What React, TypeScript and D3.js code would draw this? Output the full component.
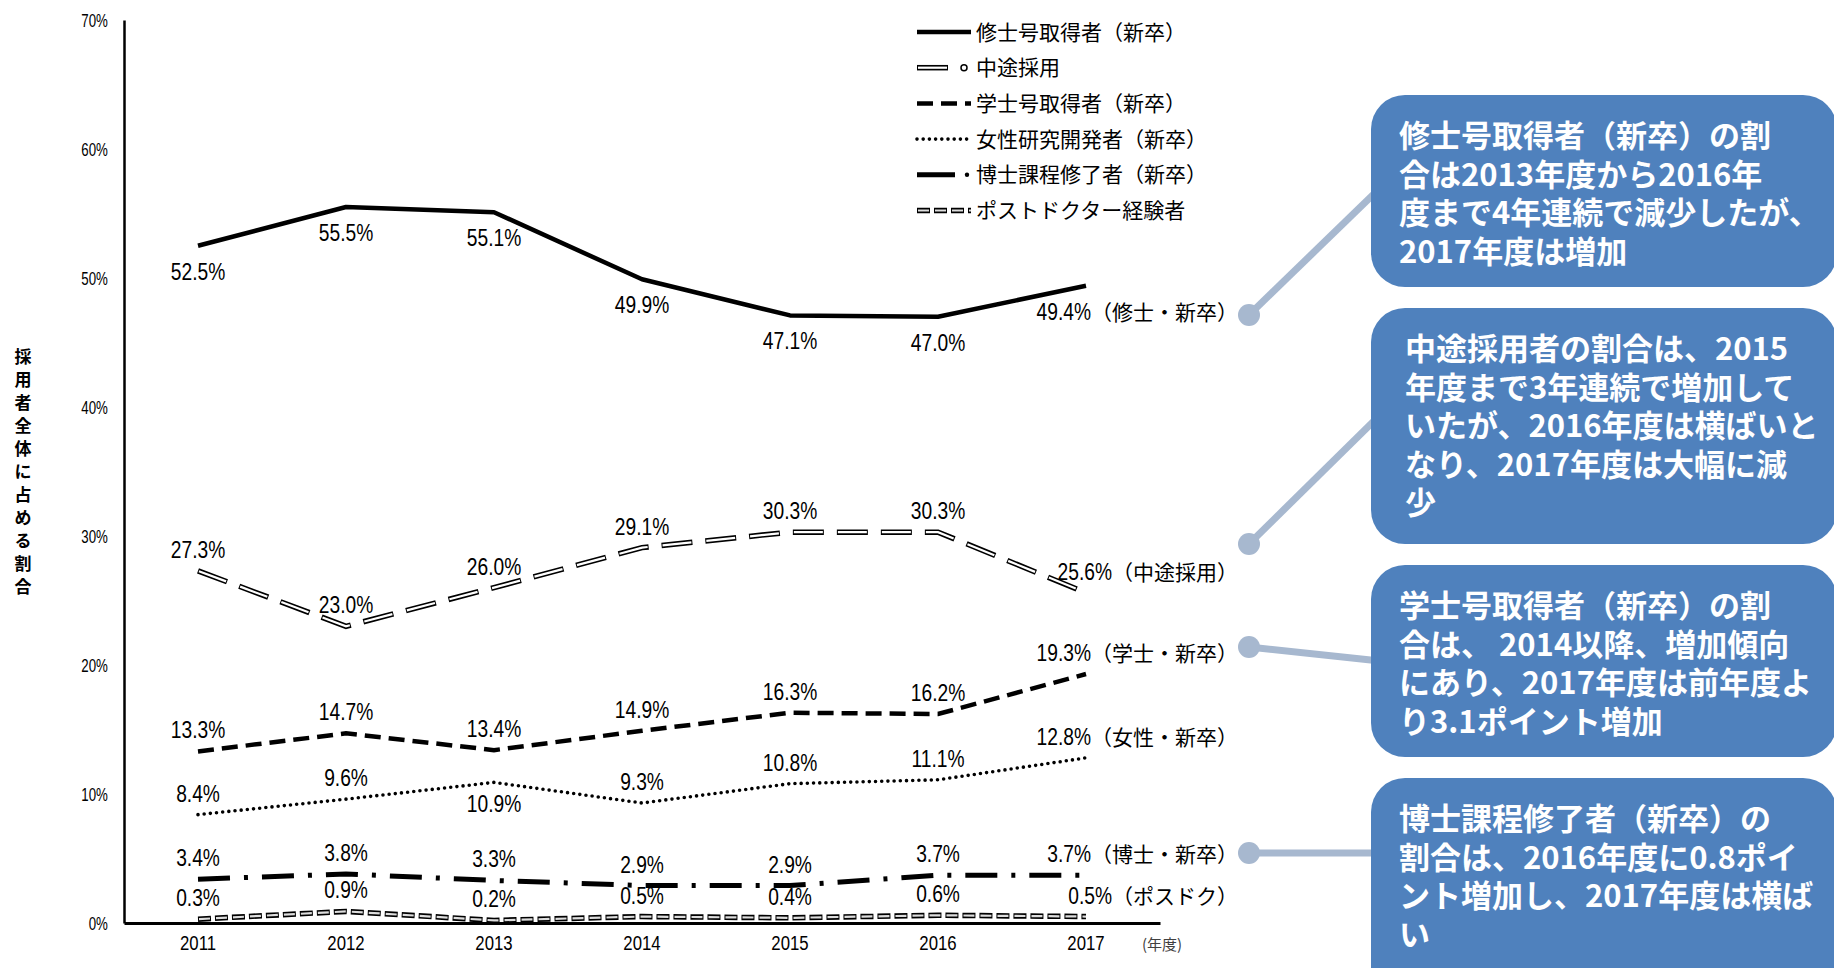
import { useRef, useEffect } from 'react';
import * as d3 from 'd3';

// 採用者全体に占める割合 (%), 2011-2017
const years = ['2011', '2012', '2013', '2014', '2015', '2016', '2017'];
const masterNew = [52.5, 55.5, 55.1, 49.9, 47.1, 47.0, 49.4];
const midCareer = [27.3, 23.0, 26.0, 29.1, 30.3, 30.3, 25.6];
const bachelorNew = [13.3, 14.7, 13.4, 14.9, 16.3, 16.2, 19.3];
const femaleNew = [8.4, 9.6, 10.9, 9.3, 10.8, 11.1, 12.8];
const doctorNew = [3.4, 3.8, 3.3, 2.9, 2.9, 3.7, 3.7];
const postdoc = [0.3, 0.9, 0.2, 0.5, 0.4, 0.6, 0.5];

const yTicks = [0, 10, 20, 30, 40, 50, 60, 70];

const legendNames = [
    '修士号取得者（新卒）',
    '中途採用',
    '学士号取得者（新卒）',
    '女性研究開発者（新卒）',
    '博士課程修了者（新卒）',
    'ポストドクター経験者',
];
const endTags = ['（修士・新卒）', '（中途採用）', '（学士・新卒）', '（女性・新卒）', '（博士・新卒）', '（ポスドク）'];

// 1 = label under the point, 0 = above
const labelBelow = [
    [1, 1, 1, 1, 1, 1, 1],
    [0, 0, 0, 0, 0, 0, 0],
    [0, 0, 0, 0, 0, 0, 0],
    [0, 0, 1, 0, 0, 0, 0],
    [0, 0, 0, 0, 0, 0, 0],
    [0, 0, 0, 0, 0, 0, 0],
];

const callouts = [
    ['修士号取得者（新卒）の割', '合は2013年度から2016年', '度まで4年連続で減少したが、', '2017年度は増加'],
    ['中途採用者の割合は、2015', '年度まで3年連続で増加して', 'いたが、2016年度は横ばいと', 'なり、2017年度は大幅に減', '少'],
    ['学士号取得者（新卒）の割', '合は、 2014以降、増加傾向', 'にあり、2017年度は前年度よ', 'り3.1ポイント増加'],
    ['博士課程修了者（新卒）の', '割合は、2016年度に0.8ポイ', 'ント増加し、2017年度は横ば', 'い'],
];

const seriesValues = [masterNew, midCareer, bachelorNew, femaleNew, doctorNew, postdoc];

const numFont = "'Liberation Sans', Arial, sans-serif";
const jpFont = "'Noto Sans CJK JP', sans-serif";

type Sel = d3.Selection<SVGGElement, unknown, null, undefined>;

const App = () => {
    const svgRef = useRef<SVGSVGElement | null>(null);

    const renderChart = () => {
        const svgElement = svgRef.current;
        if (!svgElement) return;

        const width = 1834;
        const height = 968;
        const svg = d3.select(svgElement);
        svg.selectAll('*').remove();

        svg.append('rect').attr('width', width).attr('height', height).attr('fill', '#fff');

        const x = d3.scaleBand<string>().domain(years).range([124, 1160]);
        const cx = (d: string) => (x(d) as number) + x.bandwidth() / 2;
        const y = d3.scaleLinear().domain([0, 70]).range([923, 20]);

        // line styles
        const styleLine = (g: Sel, kind: number, d: string) => {
            const p = () => g.append('path').attr('d', d).attr('fill', 'none');
            if (kind === 0) {
                p().attr('stroke', '#000').attr('stroke-width', 4.5).attr('stroke-linejoin', 'round');
            } else if (kind === 1) {
                p().attr('stroke', '#000').attr('stroke-width', 5.5).attr('stroke-dasharray', '31 13');
                p().attr('stroke', '#fff').attr('stroke-width', 2.2).attr('stroke-dasharray', '29 15')
                    .attr('stroke-dashoffset', -1);
            } else if (kind === 2) {
                p().attr('stroke', '#000').attr('stroke-width', 4.5).attr('stroke-dasharray', '16 8');
            } else if (kind === 3) {
                p().attr('stroke', '#000').attr('stroke-width', 3.6).attr('stroke-dasharray', '0 6.2')
                    .attr('stroke-linecap', 'round');
            } else if (kind === 4) {
                p().attr('stroke', '#000').attr('stroke-width', 5).attr('stroke-dasharray', '32 14 4 14');
            } else {
                p().attr('stroke', '#000').attr('stroke-width', 5.5).attr('stroke-dasharray', '13 4');
                p().attr('stroke', '#ddd').attr('stroke-width', 2.2).attr('stroke-dasharray', '11 6')
                    .attr('stroke-dashoffset', -1);
            }
        };

        const line = d3.line<number>()
            .x((_, i) => cx(years[i]))
            .y(v => y(v));

        const plot = svg.append('g');
        seriesValues.forEach((vals, s) => {
            styleLine(plot.append('g') as Sel, s, line(vals) as string);
        });

        // value labels (the reference digits are narrow, so they are squeezed)
        const labels = svg.append('g').attr('fill', '#000');
        const numLabel = (lx: number, ly: number, anchor: string, txt: string) =>
            labels.append('text')
                .attr('transform', `translate(${lx},${ly}) scale(0.8,1)`)
                .attr('text-anchor', anchor)
                .attr('font-family', numFont)
                .attr('font-size', 24)
                .text(txt);

        const tagEnd = 1238;
        seriesValues.forEach((vals, s) => {
            vals.forEach((v, i) => {
                const below = labelBelow[s][i] === 1;
                const ly = y(v) + (below ? (s === 0 ? 34 : 30) : -13);
                const txt = `${v.toFixed(1)}%`;
                if (i < years.length - 1) {
                    numLabel(cx(years[i]), ly, 'middle', txt);
                } else {
                    const tag = labels.append('text')
                        .attr('x', tagEnd)
                        .attr('y', ly)
                        .attr('text-anchor', 'end')
                        .attr('font-family', jpFont)
                        .attr('font-size', 21)
                        .text(endTags[s]);
                    const tw = (tag.node() as SVGTextElement).getComputedTextLength();
                    numLabel(tagEnd - tw, ly, 'end', txt);
                }
            });
        });

        // axes
        const yAxis = svg.append('g')
            .attr('transform', `translate(${124}, 0)`)
            .call(d3.axisLeft(y).tickValues(yTicks).tickSize(0).tickPadding(23).tickFormat(d => `${d}%`));
        yAxis.select('.domain').attr('stroke', '#000').attr('stroke-width', 2.5);
        yAxis.selectAll('text')
            .attr('transform', 'scale(0.7,1)')
            .attr('font-family', numFont)
            .attr('font-size', 19)
            .attr('fill', '#000');

        const xAxis = svg.append('g')
            .attr('transform', `translate(0, ${923})`)
            .call(d3.axisBottom(x).tickSize(0).tickPadding(13));
        xAxis.select('.domain').attr('stroke', '#000').attr('stroke-width', 3);
        xAxis.selectAll('text')
            .attr('transform', 'scale(0.86,1)')
            .attr('font-family', numFont)
            .attr('font-size', 19.5)
            .attr('fill', '#000');

        svg.append('text')
            .attr('x', 1162)
            .attr('y', 950)
            .attr('text-anchor', 'middle')
            .attr('font-family', jpFont)
            .attr('font-size', 15)
            .attr('fill', '#404040')
            .text('(年度)');

        // vertical axis title, one character per row
        const title = '採用者全体に占める割合';
        svg.append('g')
            .selectAll('text')
            .data(Array.from(title))
            .join('text')
            .attr('x', 23)
            .attr('y', (_, i) => 363 + i * 23)
            .attr('text-anchor', 'middle')
            .attr('font-family', jpFont)
            .attr('font-weight', 'bold')
            .attr('font-size', 17)
            .text(d => d);

        // legend
        const legend = svg.append('g');
        legendNames.forEach((name, i) => {
            const ly = 32 + i * 35.7;
            const g = legend.append('g') as Sel;
            if (i === 1) {
                styleLine(g, 1, `M917,${ly}H950`);
                g.append('circle').attr('cx', 964).attr('cy', ly).attr('r', 3)
                    .attr('fill', '#fff').attr('stroke', '#000').attr('stroke-width', 1.5);
            } else if (i === 4) {
                g.append('path').attr('d', `M917,${ly}H955`).attr('stroke', '#000').attr('stroke-width', 5);
                g.append('circle').attr('cx', 967).attr('cy', ly).attr('r', 2.2).attr('fill', '#000');
            } else {
                styleLine(g, i, `M917,${ly}H971`);
            }
            legend.append('text')
                .attr('x', 976)
                .attr('y', ly)
                .attr('dy', '0.36em')
                .attr('font-family', jpFont)
                .attr('font-size', 21)
                .attr('fill', '#000')
                .text(name);
        });

        // callouts
        const boxes = [
            { top: 95, h: 192, tx: 1399, dotY: 315, to: [1380, 188] },
            { top: 308, h: 236, tx: 1405, dotY: 544, to: [1380, 415] },
            { top: 565, h: 192, tx: 1399, dotY: 647, to: [1380, 661] },
            { top: 778, h: 230, tx: 1399, dotY: 853, to: [1380, 853] },
        ];
        const dotX = 1249;
        const connectors = svg.append('g');
        const boxG = svg.append('g');
        callouts.forEach((lines, k) => {
            const b = boxes[k];
            connectors.append('line')
                .attr('x1', dotX).attr('y1', b.dotY)
                .attr('x2', b.to[0]).attr('y2', b.to[1])
                .attr('stroke', '#A7B8CF')
                .attr('stroke-width', 7);
            connectors.append('circle')
                .attr('cx', dotX).attr('cy', b.dotY).attr('r', 11)
                .attr('fill', '#A7B8CF');
            boxG.append('rect')
                .attr('x', 1371).attr('y', b.top)
                .attr('width', 466).attr('height', b.h)
                .attr('rx', 34)
                .attr('fill', '#4F81BD');
            const t = boxG.append('text')
                .attr('font-family', jpFont)
                .attr('font-weight', 'bold')
                .attr('font-size', 31)
                .attr('fill', '#fff');
            lines.forEach((ln, j) => {
                t.append('tspan')
                    .attr('x', b.tx)
                    .attr('y', b.top + 52 + j * 38.6)
                    .text(ln);
            });
        });
    };

    useEffect(() => {
        renderChart();
    }, []);

    return (
        <div style={{ position: 'absolute', left: 0, top: 0 }}>
            <svg ref={svgRef} width={1834} height={968} style={{ display: 'block' }}></svg>
        </div>
    );
};

export default App;
